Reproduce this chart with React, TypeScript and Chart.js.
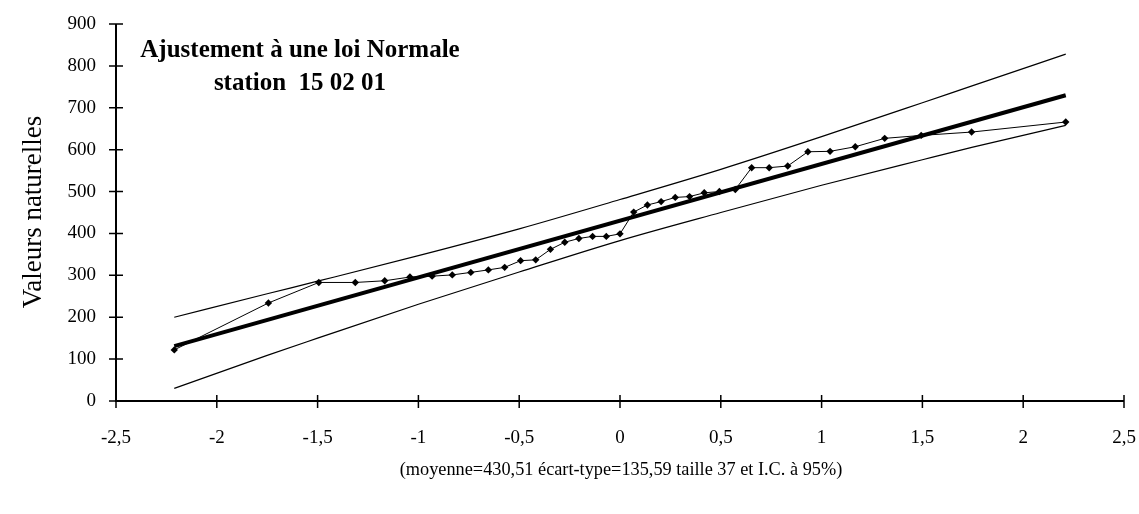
import React, { useEffect, useRef } from "react";
import { Chart, registerables } from "chart.js";

Chart.register(...registerables);

// Normal quantiles (plotting positions) of the 37 ranked observations
const quantiles = [
  -2.211, -1.744, -1.494, -1.313, -1.167, -1.042, -0.932, -0.832, -0.74, -0.653,
  -0.572, -0.493, -0.418, -0.345, -0.274, -0.204, -0.136, -0.068, 0, 0.068,
  0.136, 0.204, 0.274, 0.345, 0.418, 0.493, 0.572, 0.653, 0.74, 0.832,
  0.932, 1.042, 1.167, 1.313, 1.494, 1.744, 2.211,
];

// Ranked observed values
const observed = [
  122, 234, 283, 283, 287, 296, 298, 301, 307, 313,
  319, 335, 337, 362, 379, 388, 393, 393, 399, 451,
  468, 476, 486, 488, 497, 500, 505, 557, 557, 561,
  595, 596, 607, 627, 634, 642, 666,
];

// Fitted normal line (mean 430.51, sd 135.59)
const fitX = [-2.211, 2.211];
const fitY = [131, 730];

// 95% confidence band
const bandX = [-2.211, -1.75, -1.5, -1, -0.5, 0, 0.5, 1, 1.5, 1.75, 2.211];
const bandUpper = [200, 256, 286, 347, 411, 481, 553, 631, 712, 753, 828];
const bandLower = [30, 109, 150, 231, 308, 383, 450, 515, 576, 606, 658];

const titleLines = ["Ajustement à une loi Normale", "station  15 02 01"];
const yTitle = "Valeurs naturelles";
const note = "(moyenne=430,51 écart-type=135,59 taille 37 et I.C. à 95%)";

const SERIF = '"Liberation Serif", "Times New Roman", serif';

const toPoints = (xs: number[], ys: number[]) => xs.map((x, i) => ({ x, y: ys[i] }));

// Axis lines with tick marks that cross the axis
const axesPlugin = {
  id: "crossAxes",
  beforeDatasetsDraw(chart: any) {
    const { ctx, chartArea, scales } = chart;
    const { left, right, top, bottom } = chartArea;
    ctx.save();
    ctx.strokeStyle = "#000";
    ctx.lineWidth = 2;
    ctx.beginPath();
    ctx.moveTo(left, top);
    ctx.lineTo(left, bottom);
    ctx.lineTo(right, bottom);
    ctx.stroke();
    ctx.lineWidth = 1.5;
    ctx.beginPath();
    scales.y.ticks.forEach((t: any) => {
      const py = scales.y.getPixelForValue(t.value);
      ctx.moveTo(left - 7, py);
      ctx.lineTo(left + 7, py);
    });
    scales.x.ticks.forEach((t: any) => {
      const px = scales.x.getPixelForValue(t.value);
      ctx.moveTo(px, bottom - 6);
      ctx.lineTo(px, bottom + 7);
    });
    ctx.stroke();
    ctx.restore();
  },
};

// Title block, vertical axis title and the summary line under the axis
const textPlugin = {
  id: "chartTexts",
  afterDraw(chart: any) {
    const { ctx } = chart;
    ctx.save();
    ctx.fillStyle = "#000";
    ctx.textAlign = "center";
    ctx.textBaseline = "middle";
    ctx.font = `bold 25px ${SERIF}`;
    ctx.fillText(titleLines[0], 300, 51);
    ctx.fillText(titleLines[1], 300, 84);
    ctx.font = `18.3px ${SERIF}`;
    ctx.fillText(note, 621, 470);
    ctx.translate(34, 212);
    ctx.rotate(-Math.PI / 2);
    ctx.font = `27px ${SERIF}`;
    ctx.fillText(yTitle, 0, 0);
    ctx.restore();
  },
};

export default function App() {
  const canvasRef = useRef<HTMLCanvasElement | null>(null);

  useEffect(() => {
    if (!canvasRef.current) return;
    const chart = new Chart(canvasRef.current, {
      type: "scatter",
      data: {
        datasets: [
          {
            data: toPoints(bandX, bandUpper),
            showLine: true,
            borderColor: "#000",
            borderWidth: 1.2,
            pointRadius: 0,
            cubicInterpolationMode: "monotone",
          },
          {
            data: toPoints(bandX, bandLower),
            showLine: true,
            borderColor: "#000",
            borderWidth: 1.2,
            pointRadius: 0,
            cubicInterpolationMode: "monotone",
          },
          {
            data: toPoints(fitX, fitY),
            showLine: true,
            borderColor: "#000",
            borderWidth: 4,
            pointRadius: 0,
          },
          {
            data: toPoints(quantiles, observed),
            showLine: true,
            borderColor: "#000",
            borderWidth: 1,
            pointStyle: "rectRot",
            pointRadius: 3.7,
            pointBackgroundColor: "#000",
            pointBorderColor: "#000",
            pointBorderWidth: 0,
          },
        ],
      },
      options: {
        animation: false,
        responsive: false,
        devicePixelRatio: 1,
        layout: { padding: { top: 24, right: 15, left: 0, bottom: 0 } },
        plugins: {
          legend: { display: false },
          tooltip: { enabled: false },
        },
        scales: {
          x: {
            type: "linear",
            min: -2.5,
            max: 2.5,
            afterFit: (s: any) => {
              s.height = 113;
              s.paddingLeft = 0;
              s.paddingRight = 0;
            },
            grid: { display: false, drawTicks: false },
            border: { display: false },
            ticks: {
              stepSize: 0.5,
              autoSkip: false,
              maxRotation: 0,
              padding: 26,
              color: "#000",
              font: { family: SERIF, size: 19 },
              callback: (v: any) => String(v).replace(".", ","),
            },
          },
          y: {
            type: "linear",
            min: 0,
            max: 900,
            afterFit: (s: any) => {
              s.width = 116;
              s.paddingTop = 0;
              s.paddingBottom = 0;
            },
            grid: { display: false, drawTicks: false },
            border: { display: false },
            ticks: {
              stepSize: 100,
              padding: 20,
              color: "#000",
              font: { family: SERIF, size: 19 },
            },
          },
        },
      },
      plugins: [axesPlugin, textPlugin],
    });
    return () => chart.destroy();
  }, []);

  return (
    <div style={{ position: "absolute", left: 0, top: 0, width: 1139, height: 514, background: "#fff" }}>
      <canvas ref={canvasRef} width={1139} height={514} />
    </div>
  );
}
